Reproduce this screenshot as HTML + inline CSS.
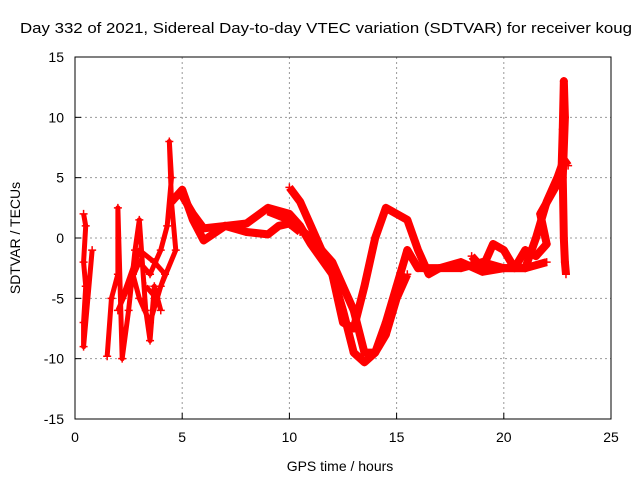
<!DOCTYPE html>
<html><head><meta charset="utf-8"><style>
body{margin:0;background:#fff}
svg{display:block;font-family:"Liberation Sans",sans-serif}
</style></head><body>
<svg id="c" width="640" height="480">
<text x="20" y="33" font-size="15" textLength="612" lengthAdjust="spacingAndGlyphs">Day 332 of 2021, Sidereal Day-to-day VTEC variation (SDTVAR) for receiver koug</text>
<text x="340" y="471" font-size="14" text-anchor="middle">GPS time / hours</text>
<text x="20" y="238" font-size="14" text-anchor="middle" transform="rotate(-90 20 238)">SDTVAR / TECUs</text>
<g id="grid"></g><g id="data"></g>
<rect x="75" y="57" width="536" height="362" fill="none" stroke="#000"/>
</svg>
<script>
const xTicks=[0,5,10,15,20,25];
const yTicks=[-15,-10,-5,0,5,10,15];
const s1=[[5,3.5],[5.5,2],[6,0.8],[7,1],[8,1.2],[9,2.5],[10,2],[10.5,1],[11,-0.5],[12,-3],[12.5,-6],[13,-9.5],[13.5,-10.3],[14,-9.5],[14.5,-7],[15,-4],[15.5,-1],[16,-2.5],[17,-2.5],[18,-2.5],[19,-2],[20,-2.5],[21,-2.5],[22,-2]];
const s2=[[10,4.2],[10.5,3],[11,1],[11.5,-1],[12,-3],[12.5,-7],[13,-7.5],[13.5,-4],[14,0],[14.5,2.5],[15,2],[15.5,1.5],[16,-1],[16.5,-3],[17,-2.5],[18,-2],[19,-2.8],[20,-2.5],[21,-2.5],[21.5,0],[22,3],[22.5,5],[22.8,6.5],[23,6]];
const s3=[[9,2.2],[10,1.5],[11,0],[12,-2],[12.5,-4],[13,-6],[13.5,-9.5],[14,-9.5],[14.5,-8],[15,-5],[15.5,-3]];
const s4=[[4.5,3],[5,4],[5.5,1.5],[6,-0.2],[7,1],[8,0.5],[9,0.3],[9.5,1],[10,1.2],[10.5,0.5]];
const s5=[[18.5,-1.5],[19,-2.5],[19.5,-0.5],[20,-1],[20.5,-2.5],[21,-1],[21.5,-1.5],[22,-0.5],[21.7,2],[22.5,4.5]];
const s6=[[22.7,6],[22.75,9],[22.8,13],[22.85,10],[22.75,5],[22.8,0],[22.85,-2],[22.9,-3]];
const s7=[[2,-6],[2.5,-4],[3,-2],[3.5,-3],[4,-1],[4.3,1],[4.5,5],[4.4,8],[4.5,3],[4.7,-1],[4,-4],[3.5,-7],[3,-5],[2.7,-3],[2.2,-5],[3,-1],[3.7,-2],[4.2,-3],[3.8,-5],[3.3,-4]];
const s8=[[0.4,2],[0.5,1],[0.4,-2],[0.5,-4],[0.4,-7],[0.4,-9],[0.8,-1]];
const s9=[[1.5,-9.8],[1.7,-5],[2,-3],[2,2.5],[2.2,-10],[2.5,-6],[2.8,-1],[3,1.5],[3.3,-6],[3.5,-8.5],[3.7,-4],[4,-6]];
const series=[s1,s2,s3,s4,s5,s6,s7,s8,s9];
const X=v=>75+v*536/25, Y=v=>238-v*362/30;
const NS="http://www.w3.org/2000/svg";
const svg=document.getElementById('c'),g=document.getElementById('grid'),d=document.getElementById('data');
function mk(t,a,p){const e=document.createElementNS(NS,t);for(const k in a)e.setAttribute(k,a[k]);p.appendChild(e);return e;}
xTicks.forEach(v=>{
 if(v>0&&v<25){const l=mk('line',{x1:X(v),x2:X(v),y1:57,y2:419,stroke:'#999','stroke-dasharray':'2,3'},g);
 
 }
 mk('line',{x1:X(v),x2:X(v),y1:419,y2:413,stroke:'#000'},g);
 const t=mk('text',{x:X(v),y:442,'font-size':14,'text-anchor':'middle'},svg);t.textContent=v;
 
 
});
yTicks.forEach(v=>{
 if(v>-15&&v<15){const l=mk('line',{x1:75,x2:611,y1:Y(v),y2:Y(v),stroke:'#999','stroke-dasharray':'2,3'},g);
 
 }
 mk('line',{x1:75,x2:81,y1:Y(v),y2:Y(v),stroke:'#000'},g);
 const t=mk('text',{x:64,y:Y(v)+5,'font-size':14,'text-anchor':'end'},svg);t.textContent=v;
 
 
});
series.forEach((s,i)=>{
 const p=mk('polyline',{points:s.map(q=>X(q[0])+','+Y(q[1])).join(' '),fill:'none',stroke:'#f00','stroke-width':i>=6?5:8,'stroke-linejoin':'round'},d);
 
 
 s.forEach(q=>{
  const m=mk('path',{d:`M${X(q[0])-4},${Y(q[1])}h8M${X(q[0])},${Y(q[1])-4}v8`,stroke:'#f00','stroke-width':1.5},d);
  
  
 });
});
</script>
</body></html>
